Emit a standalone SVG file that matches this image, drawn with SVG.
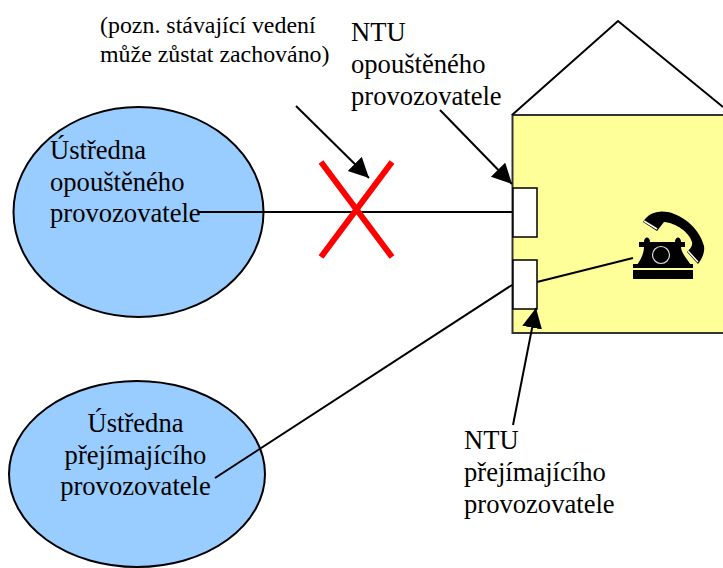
<svg xmlns="http://www.w3.org/2000/svg" width="723" height="568" viewBox="0 0 723 568">
<style>
text{font-family:"Liberation Serif","Times New Roman",serif;font-size:26.6px;fill:#000}
.note{font-size:23.9px}
.oval{fill:#99ccff;stroke:#000;stroke-width:2}
.ln{stroke:#000;stroke-width:2;fill:none}
.ntu{fill:#fff;stroke:#000;stroke-width:1.5}
.x{stroke:#ff0000;stroke-width:6}
</style>
<defs><marker id="ah" markerUnits="userSpaceOnUse" markerWidth="24" markerHeight="24" refX="20" refY="10" orient="auto"><path d="M0 0L20 10L0 20Z" fill="#000"/></marker></defs>
<rect width="723" height="568" fill="#fff"/>
<g id="house">
<rect x="512.500" y="115" width="215" height="218" fill="#ffff99" stroke="#333" stroke-width="2"/>
<path d="M512 115L618 21L723 107" class="ln"/>
</g>
<g id="central-1"><ellipse cx="138.500" cy="212" rx="125" ry="105" class="oval"/>
<text x="50" y="159">Ústředna</text><text x="50" y="191">opouštěného</text><text x="50" y="222">provozovatele</text></g>
<g id="central-2"><ellipse cx="137" cy="474" rx="128" ry="93" class="oval"/>
<text x="135.500" y="432" text-anchor="middle">Ústředna</text><text x="135.500" y="464" text-anchor="middle">přejímajícího</text><text x="135.500" y="495" text-anchor="middle">provozovatele</text></g>
<g id="ntu-1"><rect x="513" y="188" width="24" height="49" class="ntu"/></g>
<g id="ntu-2"><rect x="513" y="260" width="24" height="49" class="ntu"/></g>
<g id="connectors">
<path d="M199 212L512 212" class="ln"/>
<path d="M215 478L512 285" class="ln"/>
<path d="M537 282L633 258" class="ln"/>
<path d="M296 106L369 178" class="ln" marker-end="url(#ah)"/>
<path d="M440 110L512 184" class="ln" marker-end="url(#ah)"/>
<path d="M513 425L536 308" class="ln" marker-end="url(#ah)"/>
</g>
<g id="cross"><path d="M321 162L392 257M392 162L321 257" class="x"/></g>
<g id="phone">
<rect x="633" y="264" width="60" height="4" fill="#000"/>
<rect x="633" y="270" width="60" height="9" fill="#000"/>
<path d="M637 265C642 258 644 252 644 247H639V242H644C644 236 650 236 650 242H675C675 236 681 236 681 242H685V247H681C681 252 686 258 691 265Z" fill="#000"/>
<circle cx="661" cy="255" r="8.500" fill="none" stroke="#ddd" stroke-width="1.200"/>
<path d="M643 222C648 213 658 210 668 212C685 216 700 230 704 246C705 252 702 259 698 264L687 252C690 249 693 246 692 242C689 232 676 223 664 222L657 231Z" fill="#000"/>
<path d="M644 221L657 229M688 251L698 262" stroke="#fff" stroke-width="1.500"/>
</g>
<g id="labels">
<text class="note" x="100" y="33">(pozn. stávající vedení</text>
<text class="note" x="100" y="62">může zůstat zachováno)</text>
<text x="351" y="41">NTU</text><text x="351" y="73">opouštěného</text><text x="351" y="105">provozovatele</text>
<text x="464" y="449">NTU</text><text x="464" y="481">přejímajícího</text><text x="464" y="513">provozovatele</text>
</g>
</svg>
